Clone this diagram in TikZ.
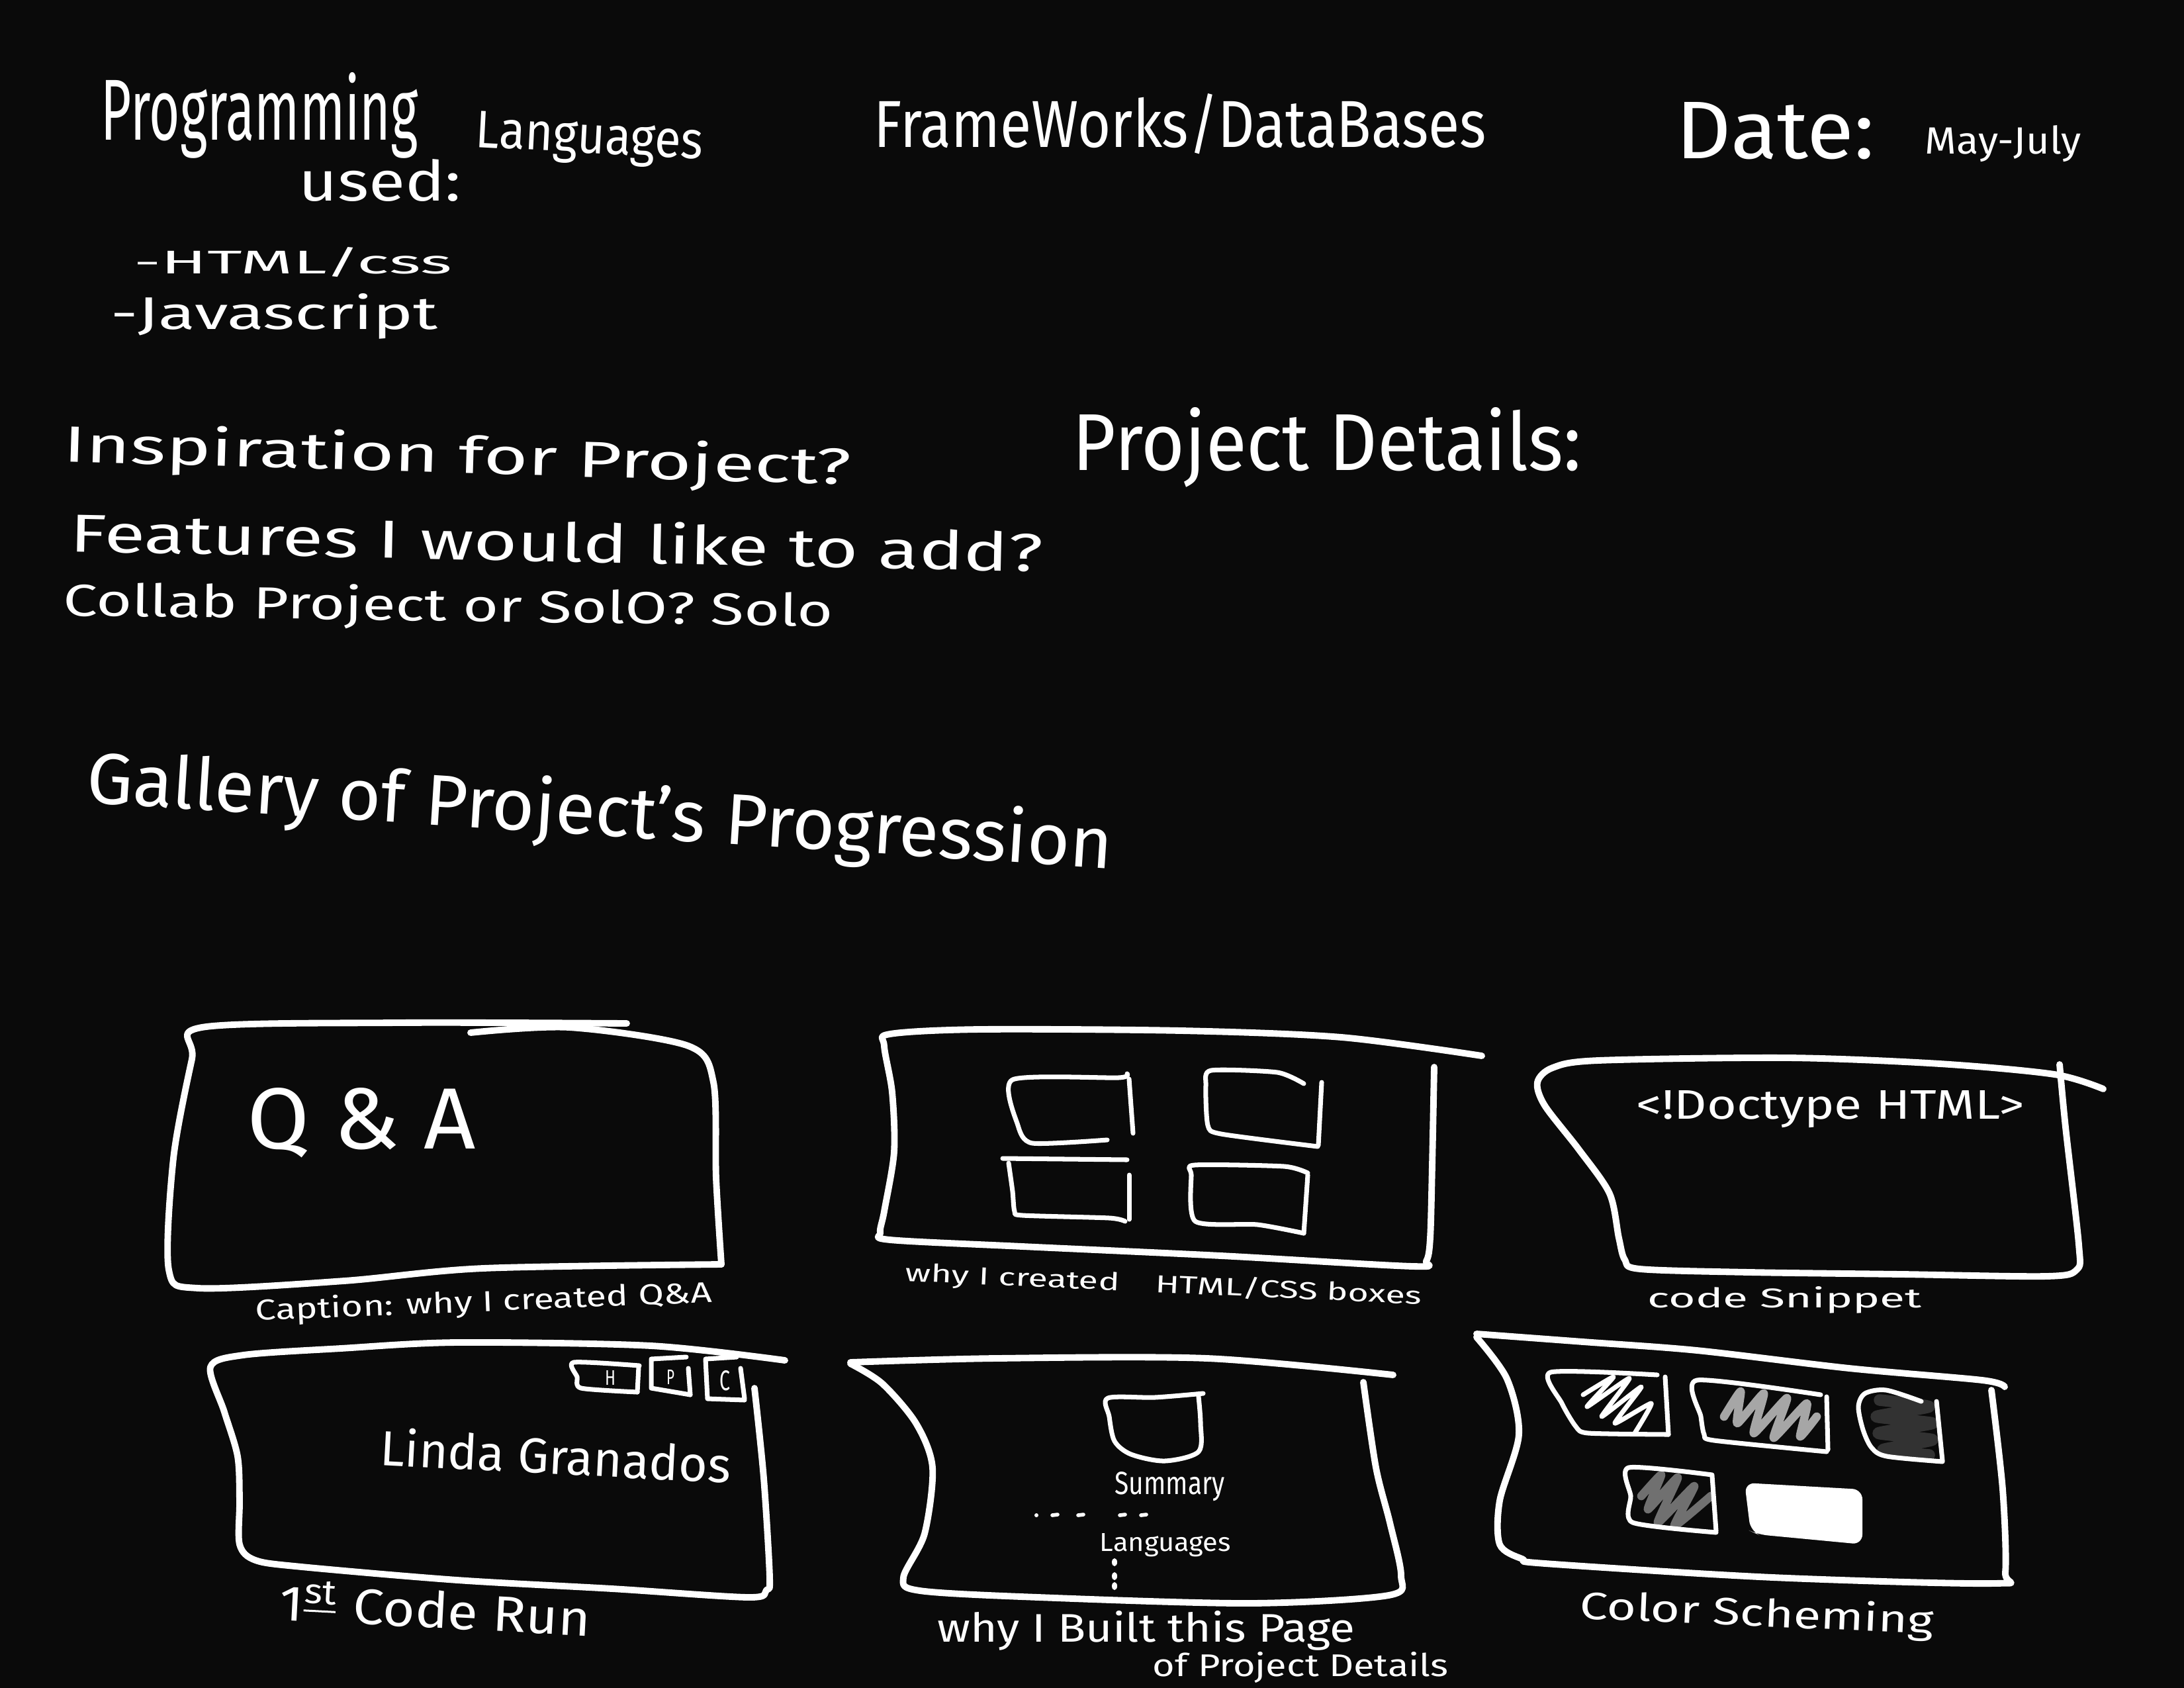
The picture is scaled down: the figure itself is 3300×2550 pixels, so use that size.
\documentclass[tikz,border=0pt]{standalone}
\usepackage{fontspec}
\usepackage{graphicx}
\usepackage{xcolor}
\usepackage{tikz}
\setmainfont{Fira Sans}

\definecolor{pizarra}{RGB}{10,10,10}
\definecolor{grisclaro}{RGB}{166,166,166}
\definecolor{grismedio}{RGB}{112,112,112}
\definecolor{grisoscuro}{RGB}{50,50,50}

\newlength{\pxu}
\setlength{\pxu}{0.1mm}
\newcommand{\hand}[3]{\resizebox{#1\pxu}{#2\pxu}{#3}}

\tikzset{
	card/.style={draw=white, line width=2.8pt, line cap=round, line join=round},
	inbox/.style={draw=white, line width=2pt, line cap=round, line join=round},
	scrib/.style={line width=3.6pt, line cap=round, line join=round},
	txt/.style={text=white, inner sep=0pt, anchor=base west},
}

\begin{document}
\begin{tikzpicture}[x=0.1mm, y=-0.1mm]
		
		% Fondo
		\useasboundingbox (0,0) rectangle (3300,2550);
		\fill[pizarra] (0,0) rectangle (3300,2550);
		
		% Encabezado
		\node[txt] (prog) at (152,212) {\hand{479}{102}{Programming}};
		\node[txt, rotate=-3] (lang) at (717,222) {\hand{344}{55}{Languages}};
		\node[txt] (used) at (451,303) {\hand{245}{63}{used:}};
		\node[txt] (html) at (202,413) {\hand{480}{40}{-HTML/css}};
		\node[txt] (js) at (167,497) {\hand{494}{54}{-Javascript}};
		\node[txt] (frame) at (1320,223) {\hand{925}{81}{FrameWorks/DataBases}};
		\node[txt] (date) at (2532,240) {\hand{300}{85}{Date:}};
		\node[txt] (month) at (2908,233) {\hand{236}{43}{May-July}};
		
		% Preguntas
		\node[txt, rotate=-1.7] (insp) at (95,697) {\hand{1190}{60}{Inspiration for Project?}};
		\node[txt] (details) at (1620,710) {\hand{769}{95}{Project Details:}};
		\node[txt, rotate=-1.2] (feat) at (105,833) {\hand{1470}{63}{Features I would like to add?}};
		\node[txt, rotate=-0.8] (collab) at (95,930) {\hand{1163}{53}{Collab Project or SolO? Solo}};
		\node[txt, rotate=-3.7] (gallery) at (129,1212) {\hand{1553}{85}{Gallery of Project's Progression}};
		
		% Tarjeta 1: Q & A
		\draw[card] plot[smooth] coordinates {(711,1560) (860,1552) (1040,1580) (1078,1635) (1082,1780) (1090,1910)};
		\draw[card] plot[smooth] coordinates {(1090,1910) (730,1916) (520,1935) (300,1946) (255,1918) (262,1750) (290,1600) (305,1552) (600,1545) (947,1546)};
		\node[txt] (qa) at (373,1735) {\hand{345}{92}{Q \& A}};
		\node[txt, rotate=2.3] (capA) at (386,1995) {\hand{690}{34}{Caption: why I created Q\&A}};
		
		% Tarjeta 2: cajas HTML/CSS
		\draw[card] plot[smooth] coordinates {(2239,1595) (2027,1567) (1785,1557) (1482,1555) (1345,1562) (1336,1580) (1348,1650) (1351,1740) (1336,1830) (1330,1862) (1345,1873) (1545,1883) (1845,1897) (2135,1913) (2155,1905) (2161,1870) (2164,1760) (2167,1612)};
		\draw[inbox] plot[smooth, tension=0.4] coordinates {(1703,1622) (1690,1628) (1530,1631) (1538,1700) (1560,1727) (1673,1722)};
		\draw[inbox] (1706,1630) -- (1712,1712);
		\draw[inbox] plot[smooth, tension=0.4] coordinates {(1970,1637) (1930,1620) (1830,1617) (1822,1640) (1825,1700) (1845,1713) (1991,1732)};
		\draw[inbox] (1997,1635) -- (1992,1730);
		\draw[inbox] (1515,1750) -- (1703,1752);
		\draw[inbox] plot[smooth, tension=0.4] coordinates {(1524,1757) (1530,1800) (1533,1830) (1545,1836) (1676,1840) (1700,1845)};
		\draw[inbox] (1706,1775) -- (1706,1842);
		\draw[inbox] plot[smooth, tension=0.4] coordinates {(1976,1772) (1940,1762) (1805,1760) (1800,1775) (1806,1845) (1900,1850) (1970,1863)};
		\draw[inbox] (1976,1775) -- (1970,1863);
		\node[txt, rotate=-2.6] (capB) at (1367,1935) {\hand{781}{30}{why I created\quad HTML/CSS boxes}};
		
		% Tarjeta 3: codigo
		\draw[card] plot[smooth] coordinates {(3178,1645) (3104,1623) (2931,1607) (2702,1598) (2415,1602) (2346,1613) (2323,1635) (2334,1670) (2386,1737) (2432,1803) (2446,1870) (2455,1903) (2478,1917) (2644,1922) (2874,1925) (3092,1928) (3138,1918) (3141,1880) (3121,1703) (3112,1608)};
		\node[txt] (doctype) at (2472,1690) {\hand{586}{43}{<!Doctype HTML>}};
		\node[txt] (capC) at (2489,1975) {\hand{414}{32}{code Snippet}};
		
		% Tarjeta 4: primera ejecucion
		\draw[card] plot[smooth] coordinates {(1186,2055) (984,2033) (691,2028) (515,2037) (368,2047) (318,2065) (339,2133) (359,2200) (362,2267) (362,2333) (386,2357) (456,2367) (691,2387) (925,2400) (1131,2413) (1158,2402) (1163,2383) (1154,2233) (1140,2097)};
		\draw[inbox] plot[smooth, tension=0.4] coordinates {(966,2063) (867,2058) (872,2080) (878,2097) (963,2103)};
		\draw[inbox] (965,2065) -- (963,2103);
		\draw[inbox] (1037,2050) -- (984,2053) -- (984,2097) -- (1043,2107);
		\draw[inbox] (1040,2067) -- (1043,2107);
		\draw[inbox] (1113,2050) -- (1066,2053) -- (1069,2113) -- (1125,2115);
		\draw[inbox] (1119,2067) -- (1125,2113);
		\node[text=white, inner sep=0pt] (tabh) at (922,2081) {\hand{16}{22}{H}};
		\node[text=white, inner sep=0pt] (tabp) at (1013,2080) {\hand{12}{22}{P}};
		\node[text=white, inner sep=0pt] (tabc) at (1095,2086) {\hand{16}{30}{C}};
		\node[txt, rotate=-3] (name) at (573,2213) {\hand{530}{58}{Linda Granados}};
		\node[txt, rotate=-3] (capD) at (421,2447) {\hand{470}{62}{1\textsuperscript{\underline{st}} Code Run}};
		
		% Tarjeta 5: detalles
		\draw[card] plot[smooth] coordinates {(2105,2077) (1824,2052) (1505,2052) (1285,2058)};
		\draw[card] plot[smooth] coordinates {(1285,2060) (1333,2090) (1384,2150) (1409,2217) (1397,2317) (1365,2383) (1390,2403) (1569,2413) (1888,2422) (2098,2410) (2117,2380) (2100,2300) (2079,2217) (2060,2088)};
		\draw[inbox] plot[smooth, tension=0.5] coordinates {(1818,2105) (1745,2111) (1674,2112) (1676,2140) (1684,2177) (1709,2197) (1760,2207) (1811,2193) (1814,2150) (1811,2110)};
		\node[txt] (summ) at (1684,2257) {\hand{166}{34}{Summary}};
		\fill[white] (1566,2289) circle (3);
		\foreach \dx in {1594,1633,1696,1728}{
			\draw[white, line width=1.6pt, line cap=round] (\dx-4,2289) -- (\dx+4,2288);
		}
		\node[txt] (langs) at (1661,2343) {\hand{198}{27}{Languages}};
		\foreach \dy in {2360,2381,2396}{
			\fill[white] (1684,\dy) ellipse (4 and 6);
		}
		\node[txt] (capE) at (1416,2480) {\hand{631}{47}{why I Built this Page}};
		\node[txt] (capE2) at (1741,2532) {\hand{447}{37}{of Project Details}};
		
		% Tarjeta 6: colores
		\draw[card] plot[smooth] coordinates {(3029,2095) (2995,2085) (2794,2067) (2564,2040) (2392,2027) (2231,2015)};
		\draw[card] plot[smooth] coordinates {(2231,2020) (2277,2083) (2295,2167) (2266,2267) (2266,2333) (2300,2355) (2335,2362) (2679,2383) (3012,2392) (3030,2375) (3026,2250) (3009,2100)};
		\draw[scrib, white, line width=2pt] plot[smooth, tension=0.3] coordinates {(2392,2107) (2438,2080) (2398,2125) (2462,2082) (2420,2140) (2480,2095) (2440,2150) (2495,2120) (2470,2165)};
		\draw[inbox] plot[smooth, tension=0.4] coordinates {(2504,2077) (2343,2073) (2360,2120) (2381,2155) (2400,2165) (2521,2167)};
		\draw[inbox] (2516,2080) -- (2521,2167);
		\draw[scrib, grisclaro] plot[smooth, tension=0.3] coordinates {(2605,2140) (2630,2102) (2625,2150) (2665,2105) (2650,2165) (2700,2112) (2680,2172) (2730,2120) (2720,2170) (2745,2140)};
		\draw[inbox] plot[smooth, tension=0.4] coordinates {(2751,2107) (2564,2085) (2570,2140) (2575,2167) (2590,2176) (2760,2193)};
		\draw[inbox] (2760,2110) -- (2762,2190);
		\draw[scrib, grisoscuro, line width=5pt] plot[smooth, tension=0.3] coordinates {(2840,2115) (2915,2125) (2835,2140) (2920,2150) (2838,2165) (2920,2175) (2845,2190) (2915,2198)};
		\draw[inbox] plot[smooth, tension=0.5] coordinates {(2903,2117) (2850,2100) (2818,2105) (2808,2125) (2815,2160) (2828,2187) (2851,2200) (2935,2208)};
		\draw[inbox] (2926,2117) -- (2935,2207);
		\draw[scrib, grismedio] plot[smooth, tension=0.3] coordinates {(2480,2260) (2510,2228) (2490,2280) (2535,2232) (2505,2300) (2560,2245) (2530,2305) (2585,2260)};
		\draw[inbox] plot[smooth, tension=0.4] coordinates {(2587,2228) (2461,2217) (2464,2260) (2467,2300) (2593,2315)};
		\draw[inbox] (2587,2230) -- (2593,2313);
		\fill[white, rounded corners=1.5mm] (2636,2240) -- (2814,2250) -- (2814,2333) -- (2656,2318) -- (2645,2313) -- cycle;
		\node[txt, rotate=-2.5] (capF) at (2386,2445) {\hand{535}{45}{Color Scheming}};
		
	\end{tikzpicture}
\end{document}
